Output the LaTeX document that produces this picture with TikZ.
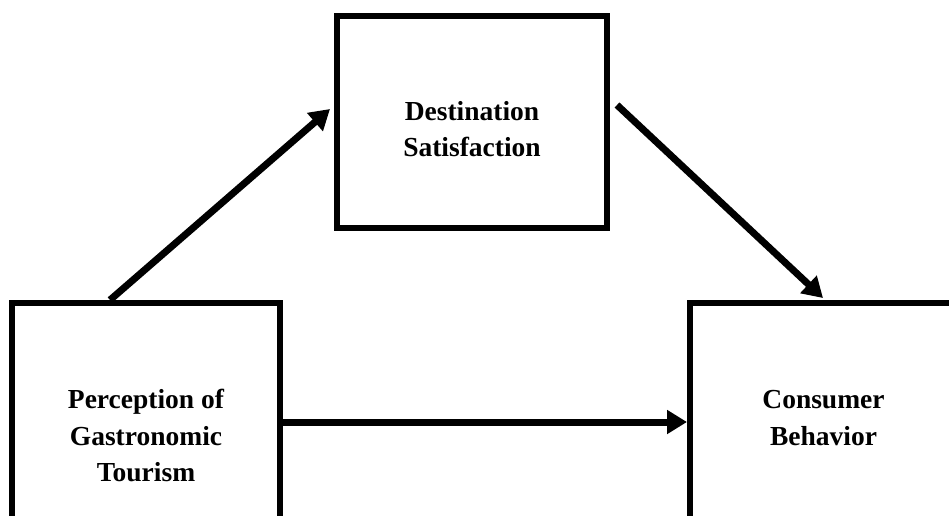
\documentclass[tikz,border=0pt]{standalone}
\usepackage{fontspec}
\setmainfont{Liberation Serif}
\usetikzlibrary{arrows.meta}
\begin{document}
\begin{tikzpicture}[x=1pt,y=-1pt,
  box/.style={draw=black,line width=6.5pt,rectangle,inner sep=0pt},
  lbl/.style={font=\fontsize{27.5}{36.5}\selectfont\bfseries,align=center,inner sep=0pt},
  arr/.style={line width=7pt,-{Triangle[length=20pt,width=23pt]}}]
\useasboundingbox (0,0) rectangle (949,515);
\fill[white] (0,0) rectangle (949,515);
\clip (0,0) rectangle (949,515);
% boxes
\node[box,minimum width=268pt,minimum height=266pt] (L) at (146,436) {};
\node[box,minimum width=270pt,minimum height=212pt] (T) at (472,122) {};
\node[box,minimum width=267pt,minimum height=266pt] (R) at (823.5,436) {};
% labels
\node[lbl] (Lt) at (146,435.5) {Perception of\\Gastronomic\\Tourism};
\node[lbl] (Tt) at (472,129) {Destination\\Satisfaction};
\node[lbl] (Rt) at (823.5,418) {Consumer\\Behavior};
% connector ends
\coordinate (a1s) at (110,300);
\coordinate (a1e) at (330,109);
\coordinate (a2s) at (617,105);
\coordinate (a2e) at (823,298);
\coordinate (a3s) at (283,422);
\coordinate (a3e) at (687,422);
% arrows
\draw[arr] (a1s) -- (a1e);
\draw[arr] (a2s) -- (a2e);
\draw[arr] (a3s) -- (a3e);
\end{tikzpicture}
\end{document}
